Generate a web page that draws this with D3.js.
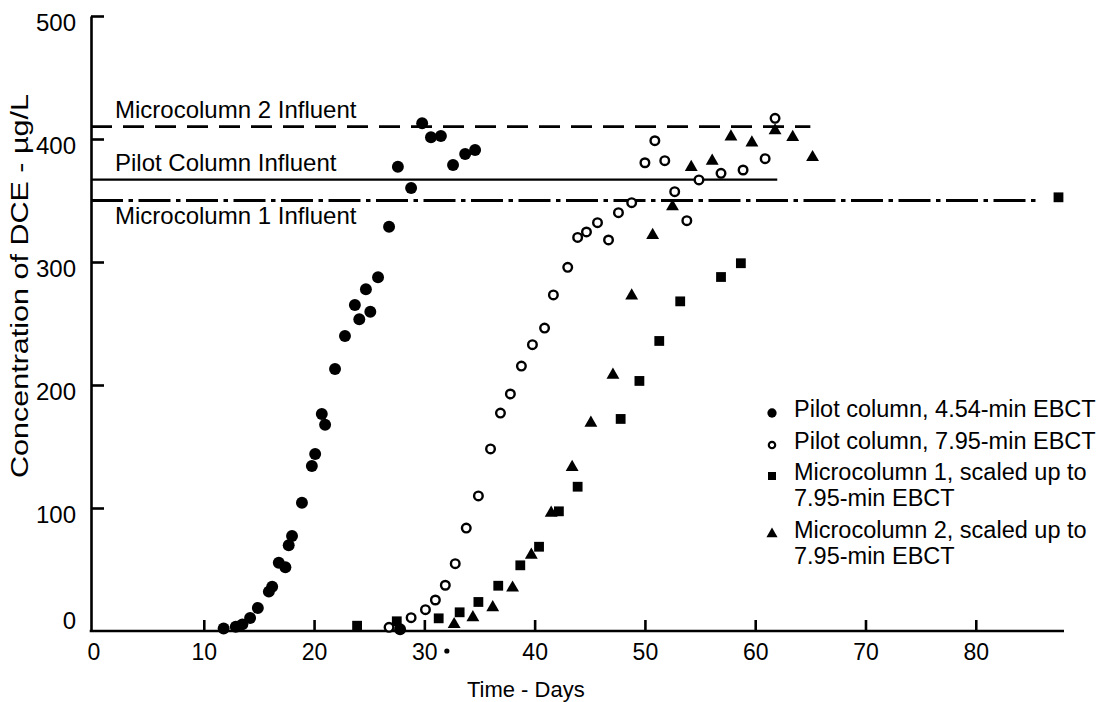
<!DOCTYPE html>
<html>
<head>
<meta charset="utf-8">
<script src="https://cdn.jsdelivr.net/npm/d3@7"></script>
<style>
  html, body { margin: 0; padding: 0; background: #fff; }
  svg { display: block; }
  text { font-family: "Liberation Sans", Arial, Helvetica, sans-serif; fill: #000; }
</style>
</head>
<body>
<svg id="chart" width="1106" height="702"></svg>
<script>
// ---------------- DATA ----------------
// Pilot column, 4.54-min EBCT (filled circles): [day, µg/L]
const pilot454 = [
  [11.8, 2], [12.9, 3.5], [13.5, 5.4], [14.2, 10.6], [14.9, 18.7], [15.9, 32], [16.2, 36],
  [16.8, 55.5], [17.4, 51.8], [17.7, 69.7], [18.0, 77.2], [18.9, 104.3], [19.8, 134.1],
  [20.1, 143.9], [20.7, 176.4], [21.0, 167.7], [21.9, 213], [22.8, 239.8], [23.7, 265],
  [24.1, 253.4], [24.7, 277.8], [25.1, 259.6], [25.8, 287.6], [26.8, 328.7], [27.6, 377.5],
  [28.8, 360.2], [29.8, 412.8], [30.6, 401.4], [31.5, 402.4], [32.6, 378.9], [33.7, 387.8],
  [34.6, 391.1], [27.8, 1.4]
];
// Pilot column, 7.95-min EBCT (open circles)
const pilot795 = [
  [26.8, 3], [28.8, 10.8], [30.1, 17.3], [31.0, 25.2], [31.9, 37.2], [32.8, 54.7], [33.8, 83.7],
  [34.9, 109.8], [36.0, 148], [36.9, 177.2], [37.8, 192.7], [38.8, 215.4], [39.8, 232.8],
  [40.9, 246.3], [41.7, 273.2], [43.0, 295.7], [43.9, 320], [44.7, 324.4], [45.7, 332],
  [46.7, 317.9], [47.6, 340.1], [48.8, 348.2], [50.0, 380.7], [50.9, 398.6], [51.8, 382.4],
  [52.7, 357.2], [53.8, 333.6], [54.9, 366.7], [56.9, 372.1], [58.9, 374.8], [60.9, 384],
  [61.8, 416.8]
];
// Microcolumn 1, scaled up to 7.95-min EBCT (filled squares)
const micro1 = [
  [23.9, 4.3], [27.5, 7.9], [31.3, 10.3], [33.2, 15.2], [34.9, 23.6], [36.7, 36.8], [38.7, 53.4],
  [40.4, 68.5], [42.2, 97.3], [43.9, 117.3], [47.8, 172.4], [49.5, 203.3], [51.3, 235.8],
  [53.2, 268], [56.9, 287.8], [58.7, 299], [87.5, 352.6]
];
// Microcolumn 2, scaled up to 7.95-min EBCT (filled triangles)
const micro2 = [
  [32.7, 5.4], [34.4, 11], [36.2, 19.1], [38.0, 35.1], [39.7, 61.8], [41.5, 95.9], [43.4, 133.1],
  [45.1, 169.1], [47.1, 208.1], [48.8, 272.6], [50.7, 321.7], [52.5, 345], [54.2, 377],
  [56.1, 382.1], [57.8, 401.9], [59.7, 397], [61.8, 406.8], [63.4, 401.4], [65.2, 385.1]
];

// Influent reference lines
const influentNames  = ["Microcolumn 2 Influent", "Pilot Column Influent", "Microcolumn 1 Influent"];
const influentLevels = [410, 367, 350];
const influentEnds   = [65, 62, 85.5];
const influentStyles = ["dash", "solid", "dashdot"];

// Axis ticks and titles
const xTicks = [0, 10, 20, 30, 40, 50, 60, 70, 80];
const yTicks = [0, 100, 200, 300, 400, 500];
const xTitle = "Time - Days";
const yTitle = "Concentration of DCE - µg/L";

// Legend
const legendLabels = [
  ["Pilot column, 4.54-min EBCT"],
  ["Pilot column, 7.95-min EBCT"],
  ["Microcolumn 1, scaled up to", "7.95-min EBCT"],
  ["Microcolumn 2, scaled up to", "7.95-min EBCT"]
];

// ---------------- CHART ----------------
const svg = d3.select("#chart");
const x = d3.scaleLinear().domain([0, 88]).range([93.5, 1064]);
const y = d3.scaleLinear().domain([0, 500]).range([631, 16]);
const axisX0 = 91; // y-axis line position

// Y axis
const yAxis = svg.append("g")
  .attr("transform", `translate(${axisX0},0)`)
  .call(d3.axisLeft(y).tickValues(yTicks).tickSizeInner(-13).tickSizeOuter(0).tickPadding(15));
yAxis.select(".domain").attr("stroke", "#000").attr("stroke-width", 2.6);
yAxis.selectAll(".tick line").attr("stroke", "#000").attr("stroke-width", 2.6)
  .attr("display", d => d === 0 ? "none" : null);
yAxis.selectAll(".tick text")
  .attr("font-size", 24).attr("font-family", null)
  .attr("dy", d => d === 0 ? -2.5 : 14.5);

// X axis
const xAxis = svg.append("g")
  .attr("transform", `translate(0,${y(0)})`)
  .call(d3.axisBottom(x).tickValues(xTicks).tickSizeInner(-11).tickSizeOuter(0).tickPadding(0));
xAxis.select(".domain").attr("stroke", "#000").attr("stroke-width", 2.6)
  .attr("d", `M${axisX0 - 1.3},0H${x(88)}`);
xAxis.selectAll(".tick line").attr("stroke", "#000").attr("stroke-width", 2.6)
  .attr("display", d => d === 0 ? "none" : null);
xAxis.selectAll(".tick text")
  .attr("font-size", 23).attr("font-family", null)
  .attr("y", 29).attr("dy", 0);
// stray dot printed beside the "30" label in the original
xAxis.selectAll(".tick").filter(d => d === 30).append("circle")
  .attr("cx", 22).attr("cy", 20).attr("r", 2.6).attr("fill", "#000");

svg.append("text").attr("x", x(39.2)).attr("y", 697).attr("text-anchor", "middle")
  .attr("font-size", 22).text(xTitle);
svg.append("text").attr("transform", "translate(28,286) rotate(-90)")
  .attr("text-anchor", "middle").attr("font-size", 23)
  .attr("textLength", 384).attr("lengthAdjust", "spacingAndGlyphs").text(yTitle);

// Influent lines
const dashes = { dash: "21,11", solid: null, dashdot: "32,5.5,4.5,5.5" };
influentLevels.forEach((lv, i) => {
  svg.append("line")
    .attr("x1", axisX0).attr("x2", x(influentEnds[i]))
    .attr("y1", y(lv)).attr("y2", y(lv))
    .attr("stroke", "#000").attr("stroke-width", influentStyles[i] === "solid" ? 2.4 : 2.8)
    .attr("stroke-dasharray", dashes[influentStyles[i]]);
});
const labelOffsets = [-9, -9, 23];
influentNames.forEach((n, i) => {
  svg.append("text").attr("x", x(1.95)).attr("y", y(influentLevels[i]) + labelOffsets[i])
    .attr("font-size", 24).text(n);
});

// Markers
const sym = d3.symbol();
function plot(data, type, size, fill, stroke, sw) {
  svg.append("g").selectAll("path").data(data).join("path")
    .attr("transform", d => `translate(${x(d[0])},${y(d[1])})`)
    .attr("d", sym.type(type).size(size)())
    .attr("fill", fill).attr("stroke", stroke).attr("stroke-width", sw);
}
plot(micro1, d3.symbolSquare, 96, "#000", "none", 0);
plot(micro2, d3.symbolTriangle, 72, "#000", "none", 0);
plot(pilot795, d3.symbolCircle, 58, "#fff", "#000", 2.4);
plot(pilot454, d3.symbolCircle, 112, "#000", "none", 0);

// Legend
const legendTypes = [
  [d3.symbolCircle, 68, "#000", "none", 0],
  [d3.symbolCircle, 32, "#fff", "#000", 2.2],
  [d3.symbolSquare, 64, "#000", "none", 0],
  [d3.symbolTriangle, 54, "#000", "none", 0]
];
const legendBase = [417, 449, 480, 538];
const lineGap = 25.5;
const lg = svg.append("g");
legendLabels.forEach((lines, i) => {
  const t = legendTypes[i];
  lg.append("path")
    .attr("transform", `translate(772,${legendBase[i] - 4})`)
    .attr("d", d3.symbol().type(t[0]).size(t[1])())
    .attr("fill", t[2]).attr("stroke", t[3]).attr("stroke-width", t[4]);
  lines.forEach((l, j) => {
    lg.append("text").attr("x", 794).attr("y", legendBase[i] + j * lineGap)
      .attr("font-size", 23.5).text(l);
  });
});
</script>
</body>
</html>
